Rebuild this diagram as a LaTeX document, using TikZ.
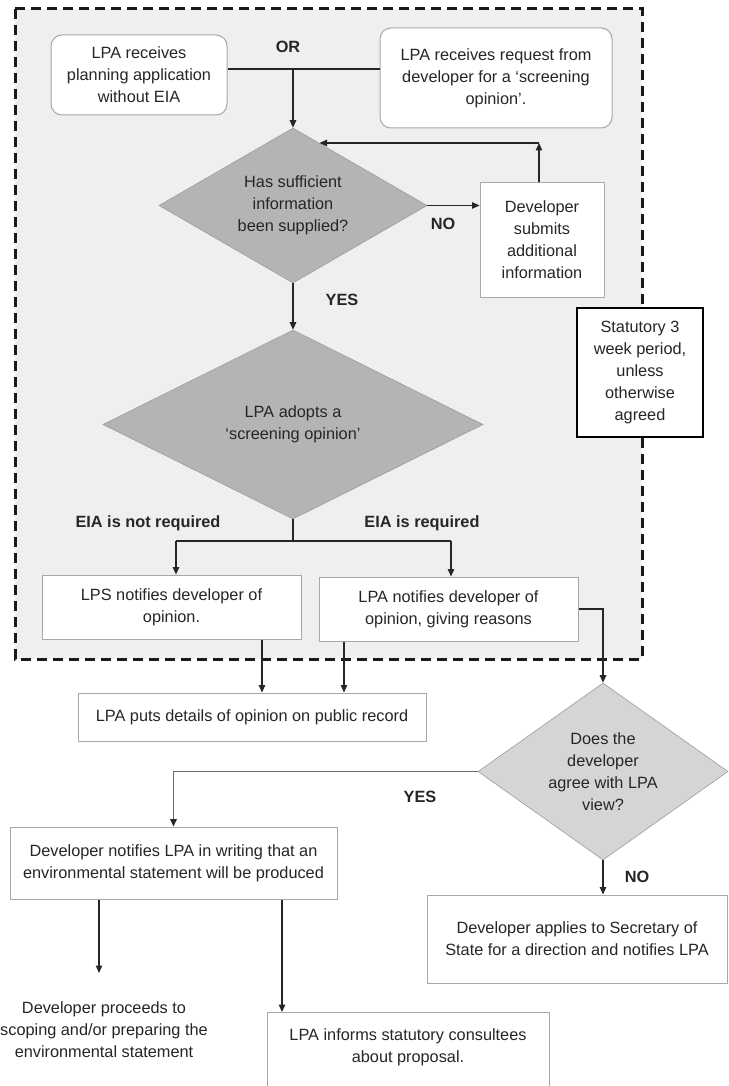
\documentclass[tikz,border=0pt]{standalone}
\usepackage{fontspec}
\setmainfont{Liberation Sans}
\usetikzlibrary{shapes.geometric,arrows.meta}
\definecolor{bgg}{HTML}{EFEFEF}
\definecolor{boxc}{HTML}{A8A8A8}
\definecolor{diac}{HTML}{B4B4B4}
\definecolor{diacc}{HTML}{D5D5D5}
\definecolor{diab}{HTML}{9C9C9C}
\definecolor{txtc}{HTML}{262626}
\definecolor{yesc}{HTML}{6A6A6A}
\tikzset{
  box/.style={draw=boxc, line width=1pt, fill=white, align=center, inner sep=0pt, text=txtc},
  rbox/.style={box, rounded corners=11pt},
  dia/.style={diamond, draw=diab, line width=0.6pt, align=center, inner sep=0pt, text=txtc},
  lbl/.style={font=\fontsize{16.3}{22}\selectfont\bfseries, inner sep=0pt, text=txtc},
  plain/.style={align=center, inner sep=0pt, text=txtc},
  conn/.style={line width=1.1pt, draw=black!85},
  arr/.style={conn, -{Triangle[length=7.5pt,width=6.5pt]}},
  yesl/.style={line width=1.8pt, draw=yesc, -{Triangle[length=7.5pt,width=6.5pt,color=black!85]}},
  frame/.style={draw=black!90, line width=3pt, dash pattern=on 10pt off 6pt, fill=bgg}
}
\begin{document}
\begin{tikzpicture}[x=1pt,y=-1pt,font=\fontsize{16.3}{22}\selectfont]
\useasboundingbox (0,0) rectangle (728,1086);
\clip (0,0) rectangle (728,1086);
\fill[white] (0,0) rectangle (728,1086);
\draw[frame] (15,9) rectangle (642,659);

\node[rbox, minimum width=176pt, minimum height=80pt] (A) at (139,75) {LPA receives\\planning application\\without EIA};
\node[rbox, minimum width=232pt, minimum height=100pt] (B) at (496,78) {LPA receives request from\\developer for a ‘screening\\opinion’.};
\node[lbl] (or) at (288,47) {OR};
\node[dia, fill=diac, aspect=1.73, minimum width=268pt, minimum height=155pt] (D1) at (293,205.5) {Has sufficient\\information\\been supplied?};
\node[box, minimum width=124pt, minimum height=114pt] (C) at (542,240) {Developer\\submits\\additional\\information};
\node[lbl] (no1) at (443,224) {NO};
\node[lbl] (yes1) at (342,300) {YES};
\node[dia, fill=diac, aspect=2.01, minimum width=380pt, minimum height=189pt] (D2) at (293,424.5) {LPA adopts a\\‘screening opinion’};
\node[box, draw=black, line width=2.4pt, minimum width=126pt, minimum height=129pt] (S) at (640,372.5) {Statutory 3\\week period,\\unless\\otherwise\\agreed};
\node[lbl] (nreq) at (148,523) {EIA is not required};
\node[lbl] (req) at (422,523) {EIA is required};
\node[box, minimum width=259pt, minimum height=64pt] (D) at (171.5,607) {LPS notifies developer of\\opinion.};
\node[box, minimum width=259pt, minimum height=64pt] (E) at (448.5,609) {LPA notifies developer of\\opinion, giving reasons};
\node[box, minimum width=348pt, minimum height=48pt] (F) at (252,717) {LPA puts details of opinion on public record};
\node[dia, fill=diacc, aspect=1.41, minimum width=250pt, minimum height=177pt] (D3) at (603,771.5) {Does the\\developer\\agree with LPA\\view?};
\node[lbl] (yes2) at (420,797) {YES};
\node[lbl] (no2) at (637,877) {NO};
\node[box, minimum width=327pt, minimum height=72pt] (G) at (173.5,863) {Developer notifies LPA in writing that an\\environmental statement will be produced};
\node[box, minimum width=300pt, minimum height=88pt] (H) at (577,939) {Developer applies to Secretary of\\State for a direction and notifies LPA};
\node[plain] (P) at (104,1030) {Developer proceeds to\\scoping and/or preparing the\\environmental statement};
\node[box, minimum width=282pt, minimum height=90pt, anchor=north] (I) at (408,1012) {};
\node[plain] (Itxt) at (408,1047) {LPA informs statutory consultees\\about proposal.};

% connectors
\coordinate (J1) at (293,69);
\draw[conn] (A.east |- J1) -- (B.west |- J1);
\draw[arr] (J1) -- (D1.north);
\draw[arr] (D1.east) -- (C.west |- D1.east);
\coordinate (FB) at (539,143);
\draw[arr] (C.north -| FB) -- (FB);
\draw[arr] (FB) -- (FB -| D1.67);
\draw[arr] (D1.south) -- (D2.north);
\coordinate (J2) at (293,541);
\coordinate (J2L) at (176,541);
\coordinate (J2R) at (451,541);
\draw[conn] (D2.south) -- (J2);
\draw[conn] (J2L) -- (J2R);
\draw[arr] (J2L) -- (J2L |- D.north);
\draw[arr] (J2R) -- (J2R |- E.north);
\coordinate (Dout) at ([xshift=90.5pt]D.south);
\coordinate (Eout) at ([xshift=-104.5pt]E.south);
\draw[arr] (Dout) -- (Dout |- F.north);
\draw[arr] (Eout) -- (Eout |- F.north);
\draw[arr] (E.east) -| (D3.north);
\draw[yesl] (D3.west) -| (G.north);
\draw[arr] (D3.south) -- (D3.south |- H.north);
\coordinate (Gout1) at ([xshift=-74.5pt]G.south);
\coordinate (Pin) at (99,973);
\draw[arr] (Gout1) -- (Pin);
\coordinate (Gout2) at ([xshift=108.5pt]G.south);
\draw[arr] (Gout2) -- (Gout2 |- I.north);
\end{tikzpicture}
\end{document}
